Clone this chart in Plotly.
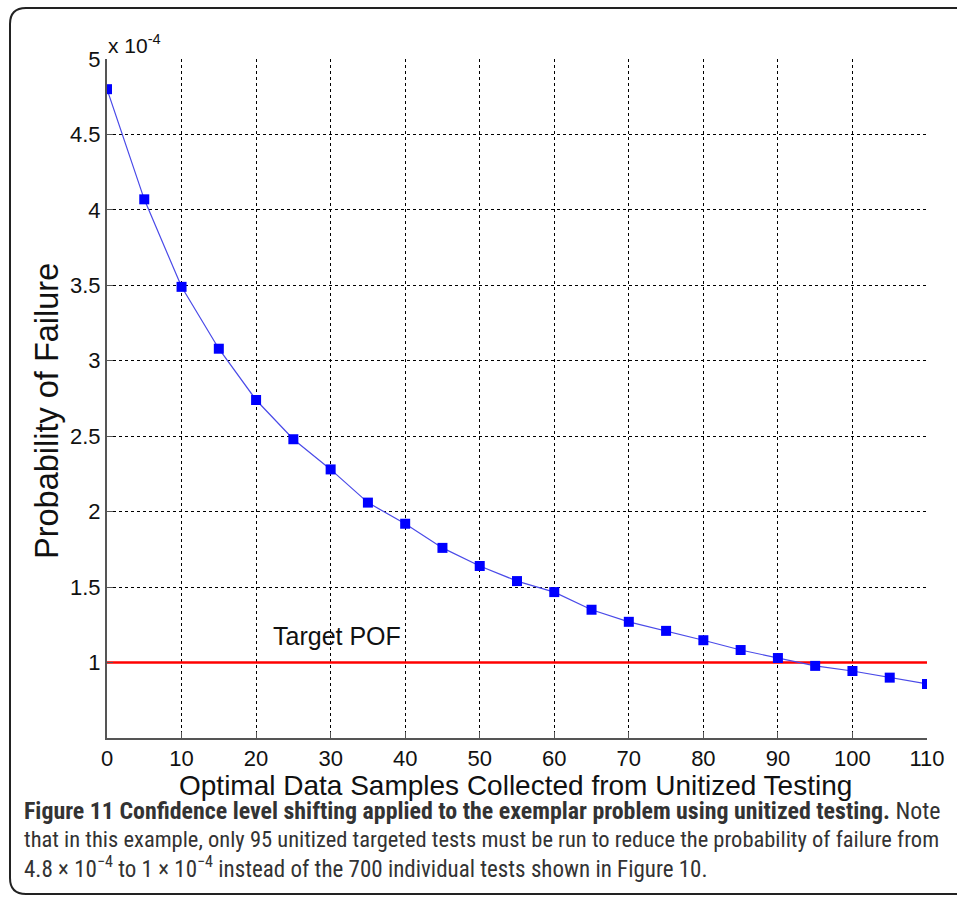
import plotly.graph_objects as go

# ---- data ----
samples = [0, 5, 10, 15, 20, 25, 30, 35, 40, 45, 50, 55, 60, 65, 70, 75, 80, 85, 90, 95, 100, 105, 110]
pof = [4.80, 4.07, 3.49, 3.08, 2.74, 2.48, 2.28, 2.06, 1.92, 1.76, 1.64, 1.54, 1.467,
       1.35, 1.27, 1.21, 1.148, 1.083, 1.03, 0.978, 0.944, 0.90, 0.858]
target_x = [0, 110]
target_y = [1, 1]
x_ticks = [0, 10, 20, 30, 40, 50, 60, 70, 80, 90, 100, 110]
y_ticks = [1, 1.5, 2, 2.5, 3, 3.5, 4, 4.5, 5]
y_tick_text = ["1", "1.5", "2", "2.5", "3", "3.5", "4", "4.5", "5"]

W, H = 957, 897
L, R, T, B = 107, 30, 59, 897 - 738
PW, PH = W - L - R, H - T - B


def px(x):
    return (x - L) / PW


def py(y):
    return (H - B - y) / PH


fig = go.Figure()
fig.add_trace(go.Scatter(x=target_x, y=target_y, mode="lines",
                         line=dict(color="#ff0000", width=2.5), showlegend=False))
fig.add_trace(go.Scatter(x=samples, y=pof, mode="lines+markers",
                         line=dict(color="#4a4ae8", width=1.2),
                         marker=dict(symbol="square", size=10, color="#0000ff",
                                     line=dict(width=0)),
                         showlegend=False))

axis_font = dict(family="Liberation Sans, Arial, sans-serif", size=22, color="#111")
fig.update_xaxes(range=[0, 110], tickvals=x_ticks, showgrid=True, gridcolor="#000",
                 griddash="dot", gridwidth=1, zeroline=False, showline=True,
                 linecolor="#555", linewidth=2, ticks="inside", ticklen=6,
                 tickcolor="#555", tickfont=axis_font)
fig.update_yaxes(range=[0.5, 5], tickvals=y_ticks, ticktext=y_tick_text, showgrid=True,
                 gridcolor="#000", griddash="dot", gridwidth=1, zeroline=False,
                 showline=True, linecolor="#555", linewidth=2, ticks="inside",
                 ticklen=6, tickcolor="#555", tickfont=axis_font)

# border box with rounded corners (pixel -> paper)
x0, x1, y0, y1, r = 10, 975, 8, 894, 16
path = (f"M {px(x0 + r)},{py(y0)} L {px(x1 - r)},{py(y0)} "
        f"Q {px(x1)},{py(y0)} {px(x1)},{py(y0 + r)} L {px(x1)},{py(y1 - r)} "
        f"Q {px(x1)},{py(y1)} {px(x1 - r)},{py(y1)} L {px(x0 + r)},{py(y1)} "
        f"Q {px(x0)},{py(y1)} {px(x0)},{py(y1 - r)} L {px(x0)},{py(y0 + r)} "
        f"Q {px(x0)},{py(y0)} {px(x0 + r)},{py(y0)} Z")
fig.add_shape(type="path", path=path, xref="paper", yref="paper",
              line=dict(color="#222", width=2), layer="above")

ann_font = dict(family="Liberation Sans, Arial, sans-serif", color="#111")
cap_family = "Roboto Condensed, Liberation Sans Narrow, Open Sans, sans-serif"
annotations = [
    dict(x=px(106), y=py(44), xref="paper", yref="paper", xanchor="left", yanchor="middle",
         text="x 10<sup>-4</sup>", showarrow=False, font=dict(ann_font, size=21)),
    dict(x=22, y=1.174, xref="x", yref="y", xanchor="left", yanchor="middle",
         text="Target POF", showarrow=False, font=dict(ann_font, size=25)),
    dict(x=px(515), y=py(785.5), xref="paper", yref="paper", xanchor="center", yanchor="middle",
         text="Optimal Data Samples Collected from Unitized Testing", showarrow=False,
         font=dict(ann_font, size=28)),
    dict(x=px(47), y=py(411), xref="paper", yref="paper", xanchor="center", yanchor="middle",
         text="Probability of Failure", textangle=-90, showarrow=False,
         font=dict(ann_font, size=32.5)),
    dict(x=px(22), y=py(811), xref="paper", yref="paper", xanchor="left", yanchor="middle",
         text="<b>Figure 11 Confidence level shifting applied to the exemplar problem using unitized testing.</b> Note",
         showarrow=False, font=dict(family=cap_family, size=23.9, color="#333")),
    dict(x=px(22), y=py(839.5), xref="paper", yref="paper", xanchor="left", yanchor="middle",
         text="that in this example, only 95 unitized targeted tests must be run to reduce the probability of failure from",
         showarrow=False, font=dict(family=cap_family, size=22.5, color="#333")),
    dict(x=px(22), y=py(867), xref="paper", yref="paper", xanchor="left", yanchor="middle",
         text="4.8 × 10<sup>−4</sup> to 1 × 10<sup>−4</sup> instead of the 700 individual tests shown in Figure 10.",
         showarrow=False, font=dict(family=cap_family, size=23, color="#333")),
]

fig.update_layout(width=W, height=H, margin=dict(l=L, r=R, t=T, b=B),
                  paper_bgcolor="white", plot_bgcolor="white",
                  annotations=annotations, showlegend=False)

fig.write_html("out.html", config={"displayModeBar": False},
               post_script="document.body.style.margin='0px';document.body.style.overflow='hidden';")
